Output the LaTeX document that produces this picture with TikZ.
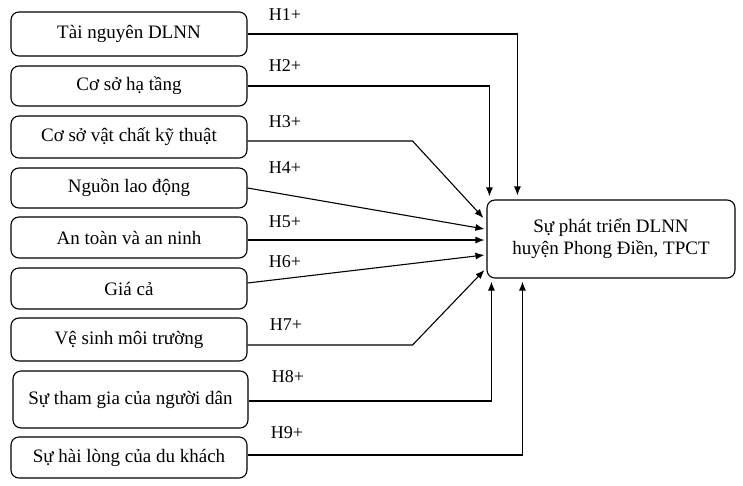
\documentclass[tikz,border=0pt]{standalone}
\usepackage{fontspec}
\setmainfont{Liberation Serif}
\usetikzlibrary{arrows.meta}

\begin{document}
\begin{tikzpicture}[x=1pt,y=-1pt]
                        \tikzstyle{factor}=[draw, rounded corners=8pt, line width=1.1pt, minimum width=236pt, inner sep=0pt, font=\fontsize{19}{22}\selectfont]
                        \tikzstyle{outcome}=[factor, minimum width=248pt, minimum height=78pt, align=center]
                        \tikzstyle{hyp}=[inner sep=0pt, font=\fontsize{18}{20}\selectfont]
                        \tikzstyle{link}=[line width=1.1pt, -{Latex[length=9pt,width=7pt]}]
                        \useasboundingbox (0,0) rectangle (743,485);
                        \node[factor, minimum height=44pt] (tainguyen) at (129,34) {Tài nguyên DLNN};
                        \node[factor, minimum height=40pt] (hatang) at (129,86) {Cơ sở hạ tầng};
                        \node[factor, minimum height=42pt] (vatchat) at (129,137) {Cơ sở vật chất kỹ thuật};
                        \node[factor, minimum height=40pt] (laodong) at (129,188) {Nguồn lao động};
                        \node[factor, minimum height=41pt] (anninh) at (129,237.5) {An toàn và an ninh};
                        \node[factor, minimum height=41pt] (giaca) at (129,288.5) {Giá cả};
                        \node[factor, minimum height=43pt] (vesinh) at (129,339.5) {Vệ sinh môi trường};
                        \node[factor, minimum height=57pt, minimum width=235pt] (thamgia) at (130.5,399.5) {Sự tham gia của người dân};
                        \node[factor, minimum height=41pt] (hailong) at (129,457.5) {Sự hài lòng của du khách};
                        \node[outcome] (phattrien) at (611,239) {Sự phát triển DLNN\\huyện Phong Điền, TPCT};
                        \node[hyp] (h1) at (285,15) {H1+};
                        \node[hyp] (h2) at (285,66) {H2+};
                        \node[hyp] (h3) at (285,122) {H3+};
                        \node[hyp] (h4) at (285,168) {H4+};
                        \node[hyp] (h5) at (285,222) {H5+};
                        \node[hyp] (h6) at (285,262) {H6+};
                        \node[hyp] (h7) at (286,325) {H7+};
                        \node[hyp] (h8) at (288,377) {H8+};
                        \node[hyp] (h9) at (287,433) {H9+};
                        \draw[link] (tainguyen.east) -| ([xshift=31pt,yshift=4pt]phattrien.north west);
                        \draw[link] (hatang.east) -| ([xshift=3pt,yshift=3pt]phattrien.north west);
                        \draw[link] ([yshift=-4pt]vatchat.east) -- ++(165,0) -- ([xshift=-3pt,yshift=21pt]phattrien.west);
                        \draw[link] (laodong.east) -- ([xshift=-2pt,yshift=10pt]phattrien.west);
                        \draw[link] ([yshift=-2.5pt]anninh.east) -- ([xshift=-2pt,yshift=-1pt]phattrien.west);
                        \draw[link] ([yshift=5.5pt]giaca.east) -- ([xshift=-2pt,yshift=-16pt]phattrien.west);
                        \draw[link] ([yshift=-5.5pt]vesinh.east) -- ++(165,0) -- ([xshift=-2pt,yshift=-31pt]phattrien.west);
                        \draw[link] ([yshift=-1.5pt]thamgia.east) -| ([xshift=5pt,yshift=-3pt]phattrien.south west);
                        \draw[link] ([yshift=2.5pt]hailong.east) -| ([xshift=36pt,yshift=-3pt]phattrien.south west);
                    \end{tikzpicture}
\end{document}
